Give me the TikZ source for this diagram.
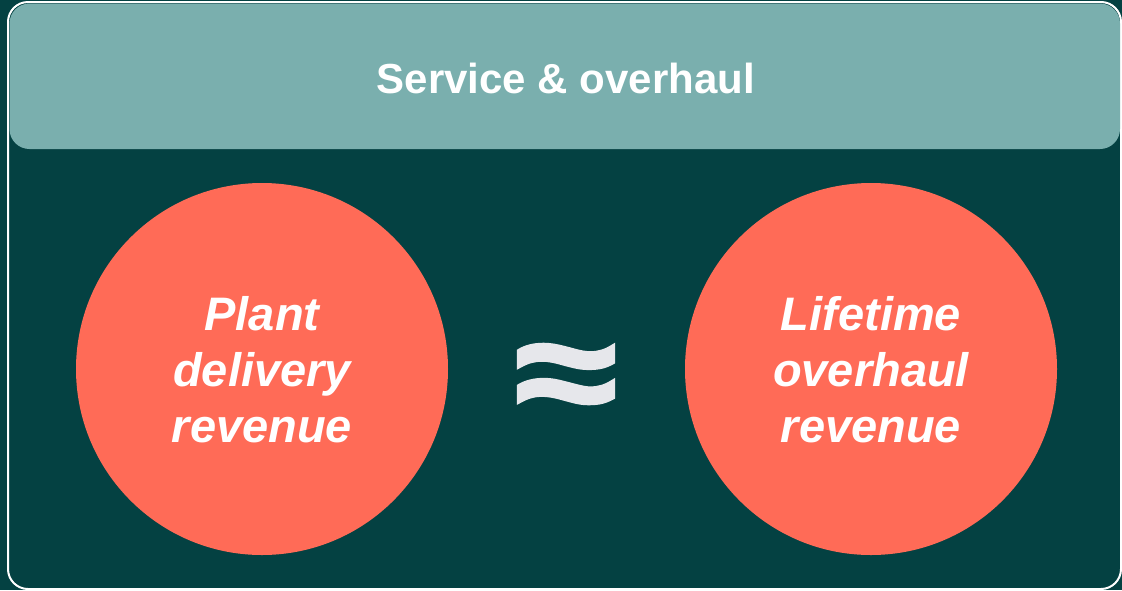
\documentclass[tikz,border=0pt]{standalone}
\usepackage{fontspec}
\setmainfont{Liberation Sans}
\newfontfamily\approxfont[FakeBold=2.5]{Liberation Sans Bold}
\definecolor{deepteal}{HTML}{044142}
\definecolor{headteal}{HTML}{7AAFAE}
\definecolor{salmon}{HTML}{FF6B57}
\definecolor{mist}{HTML}{E6E7EB}
\begin{document}
\begin{tikzpicture}[x=1pt,y=-1pt,
  frame/.style={draw=white,line width=2pt,rounded corners=20pt},
  header/.style={fill=headteal,rounded corners=20pt},
  bubble/.style={circle,fill=salmon,minimum size=372pt,inner sep=0pt},
  bubbletext/.style={text=white,font=\fontsize{47}{56}\selectfont\bfseries\itshape,align=center},
  titletext/.style={text=white,font=\fontsize{42}{50}\selectfont\bfseries}]
  \useasboundingbox (0,0) rectangle (1122,590);
  \fill[deepteal] (0,0) rectangle (1122,590);
  % outer panel and header band
  \draw[frame] (8,2) rectangle (1121,589);
  \fill[header] (9.5,3.5) rectangle (1120,149);
  \node[titletext,anchor=base] (title) at (566,93) {Service \& overhaul};
  % the two revenue bubbles
  \node[bubble] (left) at (262,369) {};
  \node[bubble] (right) at (871,369) {};
  \node[bubbletext] (lefttext) at (262,370) {Plant\\delivery\\revenue};
  \node[bubbletext] (righttext) at (871,370) {Lifetime\\overhaul\\revenue};
  % approximately-equal sign between them
  \node[text=mist,font=\fontsize{176}{176}\selectfont\approxfont,xscale=1.05,yscale=0.85] (approx) at (566,384) {≈};
\end{tikzpicture}
\end{document}
